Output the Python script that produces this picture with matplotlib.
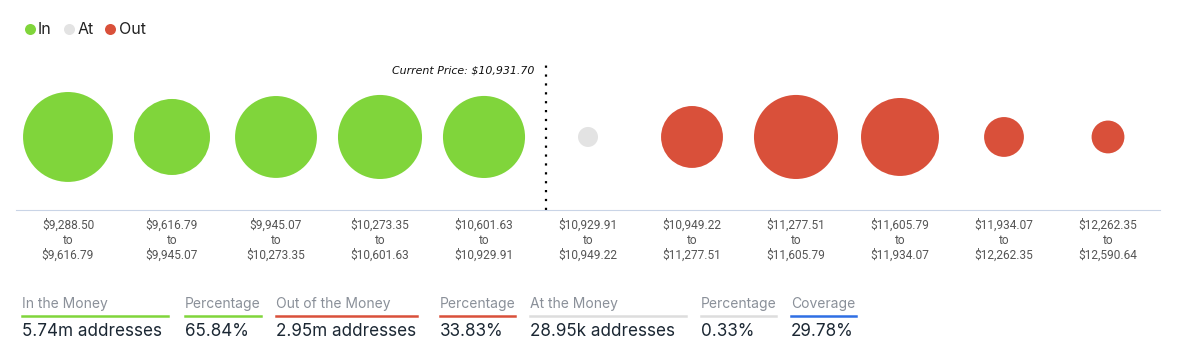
import matplotlib
matplotlib.use("Agg")
import matplotlib.pyplot as plt
import numpy as np
from matplotlib.lines import Line2D

# price ranges of the clusters
range_lo = ["$9,288.50", "$9,616.79", "$9,945.07", "$10,273.35", "$10,601.63", "$10,929.91",
            "$10,949.22", "$11,277.51", "$11,605.79", "$11,934.07", "$12,262.35"]
range_hi = ["$9,616.79", "$9,945.07", "$10,273.35", "$10,601.63", "$10,929.91", "$10,949.22",
            "$11,277.51", "$11,605.79", "$11,934.07", "$12,262.35", "$12,590.64"]
# estimated addresses per cluster (thousands)
addresses = [1350, 965, 1120, 1180, 1125, 28.95, 640, 1180, 1015, 265, 180]
status = ["In", "In", "In", "In", "In", "At", "Out", "Out", "Out", "Out", "Out"]

current_price = "Current Price: $10,931.70"
price_pos = 4.6

stat_heads = ["In the Money", "Percentage", "Out of the Money", "Percentage",
              "At the Money", "Percentage", "Coverage"]
stat_vals = ["5.74m addresses", "65.84%", "2.95m addresses", "33.83%",
             "28.95k addresses", "0.33%", "29.78%"]

colors = {"In": "#80d53b", "At": "#e3e3e3", "Out": "#d9503a"}
under_cols = ["#80d53b", "#80d53b", "#d9503a", "#d9503a", "#dddddd", "#dddddd", "#2f6fe4"]
# column extents in pixels
col_x0 = [22, 185, 276, 440, 530, 701, 791]
col_x1 = [168, 261, 417, 515, 686, 776, 856]

W, H = 1183, 355
fig = plt.figure(figsize=(W / 100, H / 100), dpi=100)

# bubble axes: pixels x 16..1160, y 60..210
ax = fig.add_axes([16 / W, 1 - 210 / H, 1144 / W, 150 / H])
x = np.arange(len(addresses))
diam_px = np.maximum(np.sqrt(np.array(addresses) * 1000 / 167), 20)
sizes = (diam_px * 0.72) ** 2
ax.scatter(x, np.zeros(len(x)), s=sizes, c=[colors[s] for s in status], linewidths=0, zorder=3)
ax.set_xlim(-0.5, len(x) - 0.5)
ax.set_ylim(-1, 1.054)
ax.set_yticks([])
ax.set_xticks(x)
ax.set_xticklabels([f"{a}\nto\n{b}" for a, b in zip(range_lo, range_hi)],
                   fontsize=8.6, color="#555555", family="Roboto", linespacing=1.2)
ax.tick_params(axis="x", length=0, pad=6)
for sp in ["top", "left", "right"]:
    ax.spines[sp].set_visible(False)
ax.spines["bottom"].set_color("#c9d4e6")
ax.axvline(price_pos, ymin=0, ymax=0.967, color="black", linestyle=(0, (1, 3)), linewidth=1.6, zorder=2)
ax.text(price_pos - 0.12, 0.904, current_price, ha="right", va="center", fontsize=7.9,
        style="italic", family="DejaVu Sans", color="#111111")

# overlay for legend and stats in pixel coordinates
ov = fig.add_axes([0, 0, 1, 1])
ov.set_xlim(0, W)
ov.set_ylim(H, 0)
ov.axis("off")

leg_items = [("In", 30, 38), ("At", 69, 78), ("Out", 110, 119)]
for name, cx, tx in leg_items:
    ov.scatter([cx], [29], s=(11 * 0.72) ** 2, color=colors[name], linewidths=0)
    ov.text(tx, 29.5, name, ha="left", va="center", fontsize=11.5, family="Inter", color="#222222")

for i in range(len(stat_heads)):
    ov.text(col_x0[i], 304, stat_heads[i], ha="left", va="center", fontsize=10,
            family="Inter", color="#8a9099")
    ov.add_line(Line2D([col_x0[i], col_x1[i]], [316, 316], color=under_cols[i], linewidth=1.8))
    ov.text(col_x0[i], 331, stat_vals[i], ha="left", va="center", fontsize=12.3,
            family="Inter", color="#1b2733")

fig.savefig("out.png", dpi=100)
